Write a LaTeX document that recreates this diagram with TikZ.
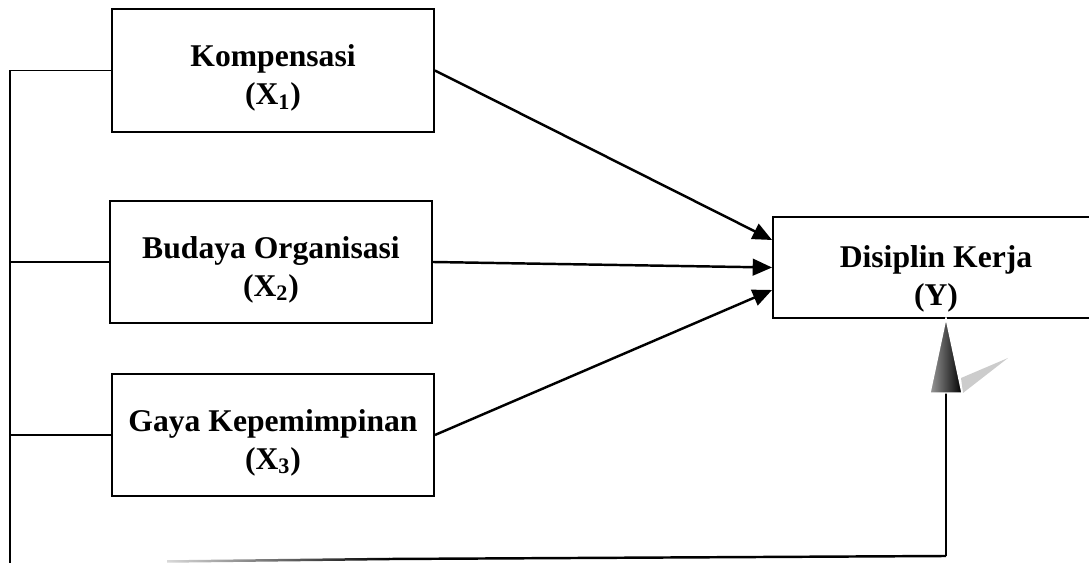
\documentclass[tikz,border=0pt]{standalone}
\usepackage{fontspec}
\setmainfont{Liberation Serif}
\usetikzlibrary{calc,arrows.meta}

\begin{document}
\begin{tikzpicture}[
  varbox/.style={draw, line width=1.1pt, align=center,
    minimum width=6.44cm, minimum height=2.45cm,
    font=\bfseries\fontsize{18}{21.6}\selectfont},
  link/.style={line width=0.8pt},
  effect/.style={line width=1.4pt, -{Triangle[length=11pt,width=9.5pt]}}
]

% Frame of the picture
\clip (0,0) rectangle (21.78,11.26);

% Define variables
\node[varbox] (K) at (5.46,9.85) {\rule{0pt}{21pt}Kompensasi\\(X\textsubscript{1})};
\node[varbox] (B) at (5.42,6.02) {\rule{0pt}{21pt}Budaya Organisasi\\(X\textsubscript{2})};
\node[varbox] (G) at (5.46,2.56) {\rule{0pt}{21pt}Gaya Kepemimpinan\\(X\textsubscript{3})};
\node[varbox, minimum width=6.52cm, minimum height=2.02cm] (Y) at (18.72,5.91) {\rule{0pt}{25pt}Disiplin Kerja\\(Y)};

% Corner points of the joint path
\coordinate (L) at (0.2,0);
\coordinate (F) at (3.34,0.03);
\coordinate (M) at (7.8,0.08);
\coordinate (R) at (18.92,0.14);
\coordinate (T) at (18.92,4.9);
\coordinate (S) at (18.92,3.4);

% Partial effects
\draw[effect] (K.east) -- ([yshift=0.55cm]Y.west);
\draw[effect] (B.east) -- (Y.west);
\draw[effect] (G.east) -- ([yshift=-0.45cm]Y.west);

% Joint effect
\draw[link] (K.west) -| (L);
\draw[link] (B.west) -- (B.west -| L);
\draw[link] (G.west) -- (G.west -| L);
\shade[left color=gray!30, right color=black]
  ($(F)+(0,-0.025)$) -- ($(M)+(0,-0.025)$) -- ($(M)+(0,0.025)$) -- ($(F)+(0,0.025)$) -- cycle;
\draw[line width=1.4pt] (M) -- (R);
\draw[link] (R) -- (S);

% Shaded arrow head with its shadow
\fill[gray!40] ($(S)+(0.3,0.3)$) -- ($(S)+(1.24,0.7)$) -- ($(S)+(0.34,0)$) -- cycle;
\shade[left color=gray!80, right color=black, draw=white, line width=0.8pt]
  (T) -- ($(S)+(-0.32,0)$) -- ($(S)+(0.32,0)$) -- cycle;

\end{tikzpicture}
\end{document}
